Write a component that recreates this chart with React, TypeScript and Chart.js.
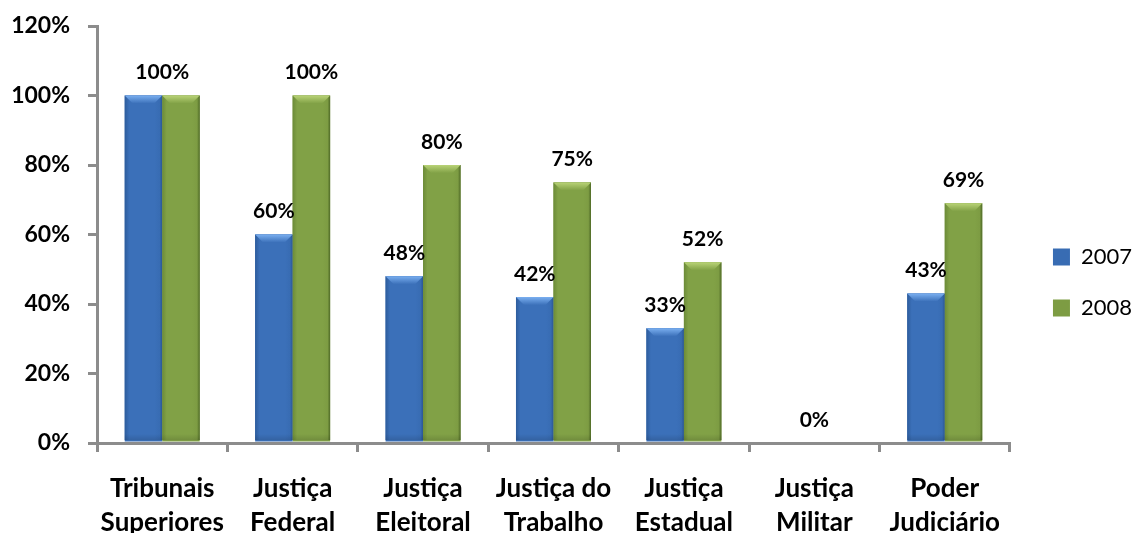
import React, { useEffect, useRef } from "react";
import { Chart, registerables } from "chart.js";

Chart.register(...registerables);

const categories: string[][] = [
  ["Tribunais", "Superiores"],
  ["Justiça", "Federal"],
  ["Justiça", "Eleitoral"],
  ["Justiça do", "Trabalho"],
  ["Justiça", "Estadual"],
  ["Justiça", "Militar"],
  ["Poder", "Judiciário"],
];
const seriesNames = ["2007", "2008"];
const series2007 = [100, 60, 48, 42, 33, 0, 43];
const series2008 = [100, 100, 80, 75, 52, 0, 69];
const yTickValues = [0, 20, 40, 60, 80, 100, 120];

const palettes = [
  { base: "#386cb3", edgeL: "#2d5c9c", mid: "#3b70b9", edgeR: "#2a5692", light: "#7aaff0" },
  { base: "#7d9c43", edgeL: "#6c8b38", mid: "#81a146", edgeR: "#4e6926", light: "#b9d377" },
];

const FONT = "Lato, 'Open Sans', sans-serif";
const AXIS_GRAY = "#8c8c8c";

const barStylePlugin = {
  id: "barStyle",
  afterDatasetsDraw(chart: any) {
    const ctx: CanvasRenderingContext2D = chart.ctx;
    ctx.save();
    chart.data.datasets.forEach((_: any, di: number) => {
      const meta = chart.getDatasetMeta(di);
      const pal = palettes[di];
      meta.data.forEach((bar: any) => {
        const { x, y, base, width } = bar.getProps(["x", "y", "base", "width"], true);
        const bottom = base - 1.5;
        const h = bottom - y;
        if (h <= 0.5) return;
        const left = x - width / 2;
        const right = x + width / 2;
        const g = ctx.createLinearGradient(left, 0, right, 0);
        g.addColorStop(0, pal.edgeL);
        g.addColorStop(0.12, pal.mid);
        g.addColorStop(0.8, pal.mid);
        g.addColorStop(0.93, pal.base);
        g.addColorStop(1, pal.edgeR);
        ctx.fillStyle = g;
        ctx.fillRect(left, y, width, h);
        const bh = Math.min(8, h / 2);
        const vg = ctx.createLinearGradient(0, y, 0, y + bh);
        vg.addColorStop(0, pal.light);
        vg.addColorStop(1, pal.mid);
        ctx.fillStyle = vg;
        ctx.beginPath();
        ctx.moveTo(left, y);
        ctx.lineTo(right, y);
        ctx.lineTo(right - bh, y + bh);
        ctx.lineTo(left + bh, y + bh);
        ctx.closePath();
        ctx.fill();
        const sb = Math.min(6, h / 3);
        const bg = ctx.createLinearGradient(0, bottom - sb, 0, bottom);
        bg.addColorStop(0, "rgba(0,0,0,0)");
        bg.addColorStop(1, "rgba(0,0,0,0.12)");
        ctx.fillStyle = bg;
        ctx.fillRect(left, bottom - sb, width, sb);
      });
    });
    ctx.restore();
  },
};

const valueLabelPlugin = {
  id: "valueLabels",
  afterDatasetsDraw(chart: any) {
    const ctx: CanvasRenderingContext2D = chart.ctx;
    const m0 = chart.getDatasetMeta(0);
    const m1 = chart.getDatasetMeta(1);
    ctx.save();
    ctx.font = `bold 21px ${FONT}`;
    ctx.fillStyle = "#000";
    ctx.textAlign = "center";
    ctx.textBaseline = "middle";
    const off = 23;
    categories.forEach((_, i) => {
      const a = series2007[i];
      const b = series2008[i];
      const e0 = m0.data[i];
      const e1 = m1.data[i];
      if (a === b) {
        ctx.fillText(`${b}%`, (e0.x + e1.x) / 2, Math.min(e0.y, e1.y) - off);
      } else {
        ctx.fillText(`${a}%`, e0.x, e0.y - off);
        ctx.fillText(`${b}%`, e1.x, e1.y - off);
      }
    });
    ctx.restore();
  },
};

export default function App() {
  const ref = useRef<HTMLCanvasElement | null>(null);

  useEffect(() => {
    if (!ref.current) return;
    const chart = new Chart(ref.current, {
      type: "bar",
      data: {
        labels: categories,
        datasets: [
          {
            label: seriesNames[0],
            data: series2007,
            backgroundColor: palettes[0].base,
            borderWidth: 0,
            categoryPercentage: 0.575,
            barPercentage: 1,
          },
          {
            label: seriesNames[1],
            data: series2008,
            backgroundColor: palettes[1].base,
            borderWidth: 0,
            categoryPercentage: 0.575,
            barPercentage: 1,
          },
        ],
      },
      options: {
        responsive: false,
        animation: false,
        devicePixelRatio: 1,
        layout: { padding: { top: 26, left: 12, right: 0, bottom: 0 } },
        plugins: {
          tooltip: { enabled: false },
          legend: {
            position: "right",
            align: "center",
            labels: {
              boxWidth: 17,
              boxHeight: 17,
              padding: 29,
              color: "#000",
              font: { family: FONT, size: 22 },
            },
          },
        },
        scales: {
          x: {
            grid: {
              display: true,
              drawOnChartArea: false,
              drawTicks: true,
              offset: true,
              tickLength: 9,
              color: AXIS_GRAY,
              lineWidth: 3,
            },
            border: { display: true, color: AXIS_GRAY, width: 3 },
            ticks: {
              color: "#000",
              padding: 19,
              maxRotation: 0,
              autoSkip: false,
              font: { family: FONT, size: 26, weight: "bold", lineHeight: 1.33 },
            },
            afterFit: (scale: any) => {
              scale.height = 96;
              scale.paddingLeft = 0;
              scale.paddingRight = 0;
            },
          },
          y: {
            min: 0,
            max: 120,
            afterBuildTicks: (scale: any) => {
              scale.ticks = yTickValues.map((v) => ({ value: v }));
            },
            grid: {
              display: true,
              drawOnChartArea: false,
              drawTicks: true,
              tickLength: 9,
              color: AXIS_GRAY,
              lineWidth: 3,
            },
            border: { display: true, color: AXIS_GRAY, width: 3 },
            ticks: {
              color: "#000",
              padding: 18,
              font: { family: FONT, size: 23, weight: "bold" },
              callback: (v: any) => `${v}%`,
            },
            afterFit: (scale: any) => {
              scale.width = 85;
              scale.paddingTop = 0;
              scale.paddingBottom = 0;
            },
          },
          gap: {
            type: "linear",
            position: "right",
            display: true,
            grid: { display: false, drawTicks: false },
            border: { display: false },
            ticks: { display: false },
            afterFit: (scale: any) => {
              scale.width = 14;
              scale.paddingTop = 0;
              scale.paddingBottom = 0;
            },
          },
        },
      },
      plugins: [barStylePlugin, valueLabelPlugin],
    } as any);
    return () => chart.destroy();
  }, []);

  return (
    <div
      style={{
        position: "fixed",
        left: 0,
        top: 0,
        width: 1135,
        height: 533,
        overflow: "hidden",
        background: "#fff",
      }}
    >
      <canvas ref={ref} width={1142} height={539} style={{ display: "block" }} />
    </div>
  );
}
